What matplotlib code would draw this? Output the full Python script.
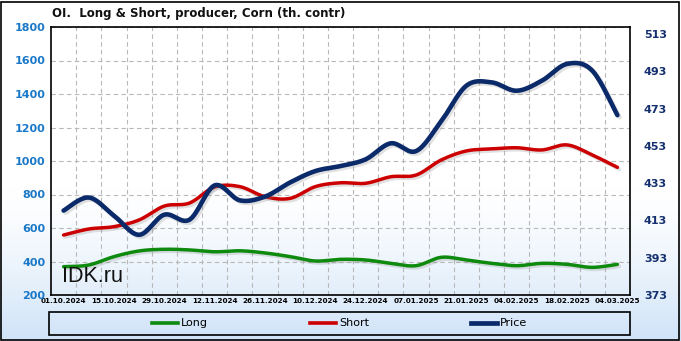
import numpy as np
import matplotlib
matplotlib.use('Agg')
import matplotlib.pyplot as plt
import matplotlib.patheffects as pe
from matplotlib.patches import Rectangle
from matplotlib.colors import to_rgb
from matplotlib.lines import Line2D

dates = ["01.10.2024", "08.10.2024", "15.10.2024", "22.10.2024", "29.10.2024",
         "05.11.2024", "12.11.2024", "19.11.2024", "26.11.2024", "03.12.2024",
         "10.12.2024", "17.12.2024", "24.12.2024", "31.12.2024", "07.01.2025",
         "14.01.2025", "21.01.2025", "28.01.2025", "04.02.2025", "11.02.2025",
         "18.02.2025", "25.02.2025", "04.03.2025"]
long_vals = [369, 379, 429, 463, 473, 469, 458, 464, 451, 429, 403, 413,
             409, 389, 375, 425, 409, 389, 375, 389, 383, 365, 383]
short_vals = [558, 594, 608, 648, 731, 749, 845, 847, 787, 777, 847, 870,
              867, 906, 916, 1006, 1060, 1072, 1079, 1066, 1096, 1036, 962]
price_vals = [418.3, 425.3, 415.6, 405.3, 416.1, 413.4, 431.8, 423.8, 425.8,
              433.4, 439.5, 442.2, 445.8, 454.4, 450.2, 466.2, 485.3, 487.1,
              482.6, 488.0, 497.0, 493.4, 469.5]
left_ticks = [200, 400, 600, 800, 1000, 1200, 1400, 1600, 1800]
right_ticks = [373, 393, 413, 433, 453, 473, 493, 513]


def smooth(xs, ys, n=30):
    P = np.column_stack([xs, ys]).astype(float)
    P = np.vstack([P[0], P, P[-1]])
    out = []
    t = np.linspace(0, 1, n)[:, None]
    for i in range(1, len(P) - 2):
        p0, p1, p2, p3 = P[i - 1], P[i], P[i + 1], P[i + 2]
        c1 = p1 + (p2 - p0) / 6.0
        c2 = p2 - (p3 - p1) / 6.0
        seg = ((1 - t) ** 3) * p1 + 3 * ((1 - t) ** 2) * t * c1 + 3 * (1 - t) * t ** 2 * c2 + t ** 3 * p2
        out.append(seg if i == 1 else seg[1:])
    out = np.vstack(out)
    return out[:, 0], out[:, 1]


W, H = 681, 341
fig = plt.figure(figsize=(W / 100, H / 100), dpi=100)

# background gradient
bg = fig.add_axes([0, 0, 1, 1], zorder=-10)
yy = np.linspace(1, 0, 200)[:, None]
tt = np.clip((0.45 - yy) / 0.45, 0, 1) ** 1.4
c0 = np.array(to_rgb('#ffffff'))
c1 = np.array(to_rgb('#cfe3f8'))
img = c0[None, None, :] * (1 - tt[:, :, None]) + c1[None, None, :] * tt[:, :, None]
img = np.repeat(img, 2, axis=1)
bg.imshow(img, aspect='auto', extent=[0, 1, 0, 1])
bg.set_axis_off()

ax = fig.add_axes([51 / W, 1 - 295 / H, (630 - 51) / W, (295 - 27) / H])
ax.set_facecolor('none')
x = np.arange(len(dates))

shadow = [pe.SimpleLineShadow(offset=(1.5, -1.5), shadow_color='#888888', alpha=0.25), pe.Normal()]

lx, ly = smooth(x, long_vals)
ax.plot(lx, ly, color='#0e8a0e', lw=2.5, solid_capstyle='round', path_effects=shadow, zorder=3)
sx, sy = smooth(x, short_vals)
ax.plot(sx, sy, color='#cc0000', lw=2.5, solid_capstyle='round', path_effects=shadow, zorder=4)

ax.set_xlim(-0.5, len(dates) - 0.5)
ax.set_ylim(200, 1800)
ax.set_yticks(left_ticks)
ax.set_yticklabels([str(v) for v in left_ticks], fontsize=8, fontweight='bold', color='#1a78c8')
ax.set_xticks(x[::2])
ax.set_xticklabels(dates[::2], fontsize=5.2, fontweight='bold', color='black')
ax.set_xticks(np.arange(len(dates) - 1) + 0.5, minor=True)
ax.tick_params(axis='both', which='both', length=0)
ax.tick_params(axis='y', pad=4)
ax.tick_params(axis='x', pad=2)
ax.grid(True, axis='y', which='major', color='#b8b8b8', ls=(0, (4, 3)), lw=0.8)
ax.grid(True, axis='x', which='minor', color='#b8b8b8', ls=(0, (4, 3)), lw=0.8)
for s in ax.spines.values():
    s.set_color('black')
    s.set_linewidth(1.2)

ax2 = ax.twinx()
px, py = smooth(x, price_vals)
ax2.plot(px, py, color='#0b2a6a', lw=3.3, solid_capstyle='round', path_effects=shadow, zorder=5)
ax2.set_ylim(373, 516.8)
ax2.set_yticks(right_ticks)
ax2.set_yticklabels([str(v) for v in right_ticks], fontsize=8, fontweight='bold', color='#15306e')
ax2.tick_params(axis='y', length=0, pad=10)
for s in ax2.spines.values():
    s.set_visible(False)

ax.text(62 / W, 1 - 282 / H, "IDK.ru", transform=fig.transFigure, fontsize=15.5,
        family='Liberation Sans', color='#111111', va='baseline', ha='left', zorder=6)

fig.text(52 / W, 1 - 13 / H, "OI.  Long & Short, producer, Corn (th. contr)", fontsize=8.5,
         fontweight='bold', va='center', ha='left', color='#111111')

# legend box
box = (49 / W, 1 - 335 / H, (630 - 49) / W, (335 - 312) / H)
fig.patches.append(Rectangle(box[:2], box[2], box[3], transform=fig.transFigure,
                             fill=False, ec='black', lw=1.2))
handles = [Line2D([], [], color='#0e8a0e', lw=2.6),
           Line2D([], [], color='#cc0000', lw=2.6),
           Line2D([], [], color='#0b2a6a', lw=3.4)]
fig.legend(handles, ['Long', 'Short', 'Price'], loc='center', bbox_to_anchor=box,
           bbox_transform=fig.transFigure, ncol=3, frameon=False, fontsize=8,
           handlelength=2.35, handletextpad=0.25, columnspacing=9.2, borderpad=0)

# outer border
fig.patches.append(Rectangle((1 / W, 1 / H), 678 / W, 338 / H, transform=fig.transFigure,
                             fill=False, ec='black', lw=1.2))

fig.savefig('out.png', dpi=100)
